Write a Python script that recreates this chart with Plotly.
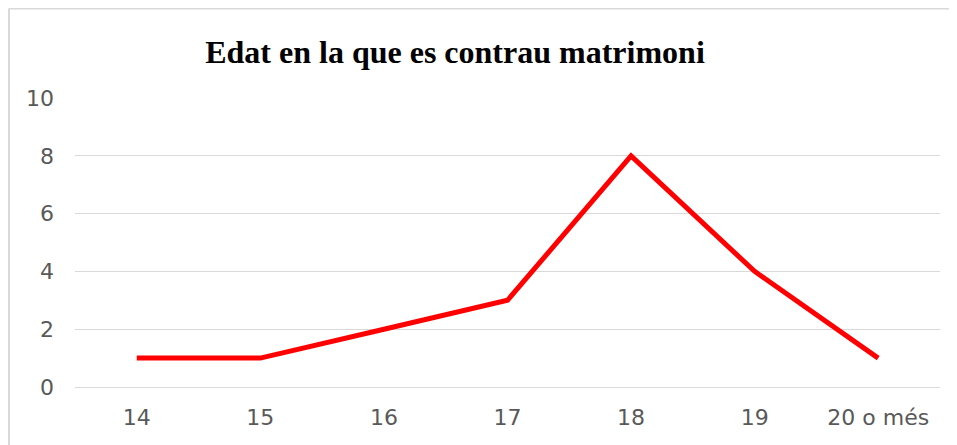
import plotly.graph_objects as go

categories = ["14", "15", "16", "17", "18", "19", "20 o més"]
values = [1, 1, 2, 3, 8, 4, 1]
title_text = "Edat en la que es contrau matrimoni"

# page body adds an 8px offset; figure coords below are screen coords minus 8
W, H = 957, 445
L, R, T, B = 67, 25, 90, 66

fig = go.Figure()
fig.add_trace(go.Scatter(
    x=categories, y=values, mode="lines",
    line=dict(color="#FF0000", width=5),
    hoverinfo="skip", showlegend=False,
))

pw = W - L - R
ph = H - T - B

fig.update_layout(
    width=W, height=H,
    margin=dict(l=L, r=R, t=T, b=B),
    paper_bgcolor="white", plot_bgcolor="white",
    title=dict(
        text="<b>" + title_text + "</b>",
        x=447 / W, xanchor="center", xref="container",
        y=1 - 44 / H, yanchor="middle", yref="container",
        font=dict(family="Liberation Serif, Times New Roman, serif", size=32, color="black"),
    ),
    xaxis=dict(
        type="category", showgrid=False, zeroline=False, showline=False,
        ticks="", ticklabelstandoff=15,
        tickfont=dict(family="DejaVu Sans, sans-serif", size=22, color="#595959"),
        range=[-0.5, 6.5],
    ),
    yaxis=dict(
        range=[0, 10], dtick=2, showgrid=True, gridcolor="#D9D9D9", gridwidth=1,
        zeroline=True, zerolinecolor="#D9D9D9", zerolinewidth=1,
        showline=False, ticks="", ticklabelstandoff=20,
        tickfont=dict(family="DejaVu Sans, sans-serif", size=22, color="#595959"),
    ),
    shapes=[
        dict(type="line", xref="paper", yref="paper",
             x0=(1 - L) / pw, x1=(W + 10 - L) / pw,
             y0=1 + (T - 0.5) / ph, y1=1 + (T - 0.5) / ph,
             line=dict(color="#D9D9D9", width=2)),
        dict(type="line", xref="paper", yref="paper",
             x0=(1 - L) / pw, x1=(1 - L) / pw,
             y0=1 + (T - 0.5) / ph, y1=-(B + 10) / ph,
             line=dict(color="#D9D9D9", width=2)),
    ],
)

fig.write_html("out.html")
